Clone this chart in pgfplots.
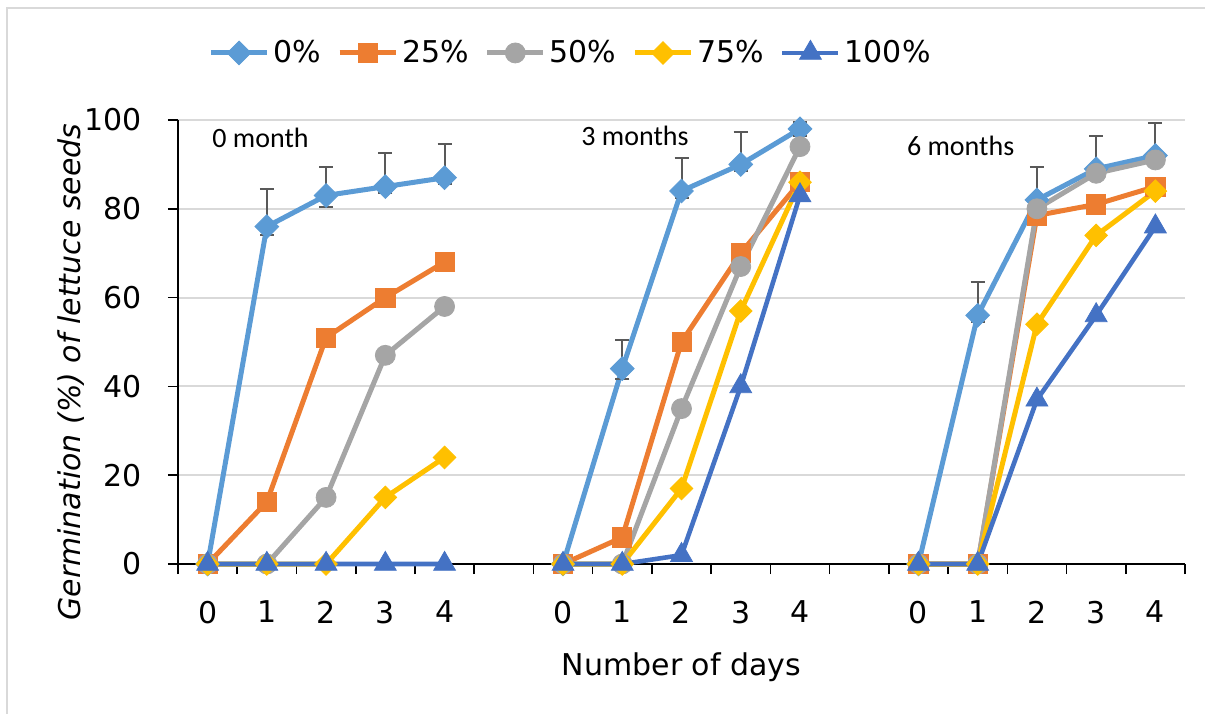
\documentclass[border=0pt]{standalone}
\usepackage{fontspec}
\setmainfont{DejaVu Sans}
\newfontfamily\carl{Carlito}
\usepackage{pgfplots}
\pgfplotsset{compat=1.18}
\usepackage{pgfplotstable}

\definecolor{czero}{HTML}{5B9BD5}
\definecolor{ctwf}{HTML}{ED7D31}
\definecolor{cfifty}{HTML}{A5A5A5}
\definecolor{csevf}{HTML}{FFC000}
\definecolor{chund}{HTML}{4472C4}
\definecolor{gridgray}{HTML}{D9D9D9}
\definecolor{errgray}{HTML}{595959}

\pgfplotstableread{
x y ep em
0 0 0 0
1 76 8.5 2
2 83 6.5 2.5
3 85 7.5 1.5
4 87 7.5 1.5
5 nan 0 0
6 0 0 0
7 44 6.4 2.4
8 84 7.4 1.5
9 90 7.4 1.5
10 98 1.5 1.5
11 nan 0 0
12 0 0 0
13 56 7.5 1.5
14 82 7.4 1.5
15 89 7.4 1.5
16 92 7.3 1.5
}\tzero

\pgfplotstableread{
x y
0 0
1 14
2 51
3 60
4 68
5 nan
6 0
7 6
8 50
9 70
10 86
11 nan
12 0
13 0
14 78.5
15 81
16 85
}\ttwf

\pgfplotstableread{
x y
0 0
1 0
2 15
3 47
4 58
5 nan
6 0
7 0
8 35
9 67
10 94
11 nan
12 0
13 0
14 80
15 88
16 91
}\tfifty

\pgfplotstableread{
x y
0 0
1 0
2 0
3 15
4 24
5 nan
6 0
7 0
8 17
9 57
10 86
11 nan
12 0
13 0
14 54
15 74
16 84
}\tsevf

\pgfplotstableread{
x y
0 0
1 0
2 0
3 0
4 0
5 nan
6 0
7 0
8 2
9 40
10 83
11 nan
12 0
13 0
14 37
15 56
16 76
}\thund

\begin{document}
\begin{tikzpicture}
\useasboundingbox (0,0) rectangle (602.5pt,356.5pt);
\draw[gridgray, line width=1pt] (3.5pt,-2pt) -- (3.5pt,352.5pt) -- (605pt,352.5pt);
\begin{axis}[
  at={(89pt,74.5pt)}, anchor=south west,
  scale only axis, width=503.5pt, height=222pt,
  xmin=-0.5, xmax=16.5, ymin=0, ymax=100,
  axis lines=left, axis line style={-, black, line width=0.8pt},
  xtick={-0.5,0.5,...,16.5}, xticklabels={},
  extra x ticks={0,1,2,3,4,6,7,8,9,10,12,13,14,15,16},
  extra x tick labels={0,1,2,3,4,0,1,2,3,4,0,1,2,3,4},
  extra x tick style={major tick length=0pt, grid=none, xticklabel style={yshift=-15pt}},
  ytick={0,20,...,100},
  ymajorgrids, grid style={gridgray, line width=1pt},
  tick align=outside, major tick length=5pt,
  tick style={black, line width=0.8pt},
  yticklabel style={xshift=-9.5pt},
  ticklabel style={font=\fontsize{15}{18}\selectfont},
  /pgf/number format/assume math mode=true,
  unbounded coords=jump, clip=false,
  legend columns=5,
  legend style={at={(axis description cs:0.3908,1.151)}, anchor=center, draw=none, fill=none,
    font=\fontsize{15}{18}\selectfont, inner sep=0pt,
    /tikz/every even column/.append style={column sep=6pt}},
  legend cell align=left,
  legend image code/.code={\draw[mark repeat=2,mark phase=2] plot coordinates {(0pt,0pt) (14pt,0pt) (28pt,0pt)};},
]
\addplot[czero, line width=2.5pt, mark=square*, mark size=4.2pt,
  mark options={solid, rotate=45, line width=0.4pt, fill=czero, draw=czero},
  error bars/.cd, y dir=both, y explicit,
  error bar style={errgray, line width=1pt},
  error mark options={rotate=90, mark size=3.5pt, line width=1pt, errgray}]
  table[x=x, y=y, y error plus=ep, y error minus=em]{\tzero};
\addlegendentry{0\%}
\addplot[ctwf, line width=2.5pt, mark=square*, mark size=4.8pt,
  mark options={solid, line width=0.4pt, fill=ctwf, draw=ctwf}]
  table[x=x, y=y]{\ttwf};
\addlegendentry{25\%}
\addplot[cfifty, line width=2.5pt, mark=*, mark size=5pt,
  mark options={solid, line width=0.4pt, fill=cfifty, draw=cfifty}]
  table[x=x, y=y]{\tfifty};
\addlegendentry{50\%}
\addplot[csevf, line width=2.5pt, mark=square*, mark size=4pt,
  mark options={solid, rotate=45, line width=0.4pt, fill=csevf, draw=csevf}]
  table[x=x, y=y]{\tsevf};
\addlegendentry{75\%}
\addplot[chund, line width=2.3pt, mark=triangle*, mark size=6.3pt,
  mark options={solid, line width=0.4pt, fill=chund, draw=chund}]
  table[x=x, y=y]{\thund};
\addlegendentry{100\%}

\node[anchor=base west, inner sep=0pt, font=\carl\fontsize{14}{16}\selectfont] at (axis description cs:0.0338,0.939) {0 month};
\node[anchor=base west, inner sep=0pt, font=\carl\fontsize{14}{16}\selectfont] at (axis description cs:0.4002,0.943) {3 months};
\node[anchor=base west, inner sep=0pt, font=\carl\fontsize{14}{16}\selectfont] at (axis description cs:0.7236,0.9196) {6 months};
\node[anchor=base, inner sep=0pt, font=\fontsize{15}{18}\selectfont] at (axis description cs:0.5,-0.252) {Number of days};
\node[anchor=base, rotate=90, inner sep=0pt, font=\itshape\fontsize{15}{18}\selectfont] at (axis description cs:-0.0973,0.432) {Germination (\%) of lettuce seeds};
\end{axis}
\end{tikzpicture}
\end{document}
